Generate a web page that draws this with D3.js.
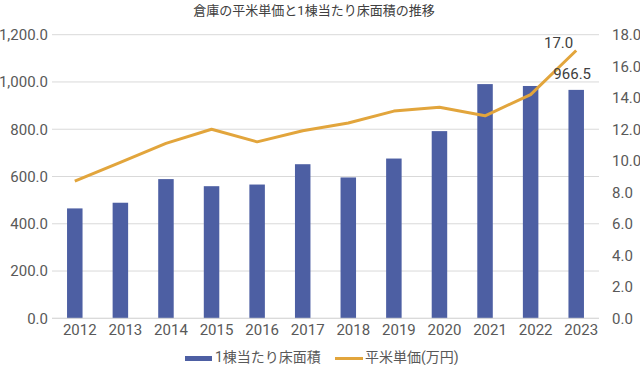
<!DOCTYPE html>
<html><head><meta charset="utf-8">
<script src="https://cdn.jsdelivr.net/npm/d3@7"></script>
<style>
html,body{margin:0;padding:0;background:#fff;}
svg text{font-family:Roboto,"Noto Sans CJK JP",sans-serif;}
</style></head>
<body><svg id="c" width="640" height="365"></svg>
<script>
const years = ["2012","2013","2014","2015","2016","2017","2018","2019","2020","2021","2022","2023"];
const floorArea = [465, 489, 589, 559, 566, 652, 596, 676, 792, 991, 983, 966.5];
const unitPrice = [8.7, 9.9, 11.1, 12.0, 11.2, 11.9, 12.4, 13.15, 13.4, 12.85, 14.2, 17.0];
const leftTicks = [0, 200, 400, 600, 800, 1000, 1200];
const rightTicks = [0, 2, 4, 6, 8, 10, 12, 14, 16, 18];
const title = "倉庫の平米単価と1棟当たり床面積の推移";
const seriesNames = ["1棟当たり床面積", "平米単価(万円)"];

(function(){
const svg = d3.select("#c");
const pL = 52, pR = 599, pT = 34.7, pB = 318.3;
const barColor = "#4d5fa3", lineColor = "#e2a53c", textColor = "#595959";

const x = d3.scaleBand().domain(years).range([pL, pR]).paddingInner(0.66).paddingOuter(0.33);
const yL = d3.scaleLinear().domain([0, 1200]).range([pB, pT]);
const yR = d3.scaleLinear().domain([0, 18]).range([pB, pT]);

// gridlines
svg.append("g").selectAll("line").data(leftTicks).join("line")
  .attr("x1", pL).attr("x2", pR)
  .attr("y1", d => yL(d)).attr("y2", d => yL(d))
  .attr("stroke", "#d9d9d9").attr("stroke-width", 1);

// left axis
const fmtL = d3.format(",.1f");
const gL = svg.append("g").attr("transform", `translate(${pL - 4},0)`)
  .call(d3.axisLeft(yL).tickValues(leftTicks).tickFormat(fmtL).tickSize(0).tickPadding(0));
gL.select(".domain").remove();
gL.selectAll("text").attr("font-size", 15).attr("fill", textColor).attr("font-family", "Roboto");

// right axis
const gR = svg.append("g").attr("transform", `translate(612,0)`)
  .call(d3.axisRight(yR).tickValues(rightTicks).tickFormat(d3.format(".1f")).tickSize(0).tickPadding(0));
gR.select(".domain").remove();
gR.selectAll("text").attr("font-size", 15).attr("fill", textColor).attr("font-family", "Roboto");

// bars
svg.append("g").selectAll("rect").data(years).join("rect")
  .attr("x", (d) => x(d)).attr("width", x.bandwidth())
  .attr("y", (d, i) => yL(floorArea[i]))
  .attr("height", (d, i) => pB - yL(floorArea[i]))
  .attr("fill", barColor);

// baseline
svg.append("line").attr("x1", pL).attr("x2", pR).attr("y1", pB).attr("y2", pB)
  .attr("stroke", "#d9d9d9").attr("stroke-width", 1);

// x axis
const gX = svg.append("g").attr("transform", `translate(5,${pB + 4})`)
  .call(d3.axisBottom(x).tickSize(0).tickPadding(0));
gX.select(".domain").remove();
gX.selectAll("text").attr("font-size", 15).attr("fill", textColor).attr("font-family", "Roboto").attr("dy", "0.85em");

// line
const line = d3.line().x((d, i) => x(years[i]) + x.bandwidth() / 2).y(d => yR(d));
svg.append("path").datum(unitPrice).attr("d", line)
  .attr("fill", "none").attr("stroke", lineColor).attr("stroke-width", 3).attr("stroke-linejoin", "round");

// data labels
const lastI = years.length - 1;
svg.append("text").attr("x", x(years[lastI]) + x.bandwidth() / 2 - 3).attr("y", yR(unitPrice[lastI]) - 2)
  .attr("text-anchor", "end").attr("font-size", 15).attr("fill", "#404040").text(d3.format(".1f")(unitPrice[lastI]));
svg.append("text").attr("x", x(years[lastI]) + x.bandwidth() / 2 - 4).attr("y", yL(floorArea[lastI]) - 11)
  .attr("text-anchor", "middle").attr("font-size", 15).attr("fill", "#404040").text(d3.format(".1f")(floorArea[lastI]));

// title
svg.append("text").attr("x", 314).attr("y", 15).attr("text-anchor", "middle")
  .attr("font-size", 13).attr("fill", "#404040").attr("font-family", "'Noto Sans CJK JP'").text(title);

// legend
svg.append("rect").attr("x", 185).attr("y", 356).attr("width", 27).attr("height", 5).attr("fill", barColor);
svg.append("text").attr("x", 215).attr("y", 362).attr("font-size", 14).attr("fill", textColor)
  .attr("font-family", "'Noto Sans CJK JP'").text(seriesNames[0]);
svg.append("line").attr("x1", 335).attr("x2", 363).attr("y1", 358.5).attr("y2", 358.5)
  .attr("stroke", lineColor).attr("stroke-width", 3);
svg.append("text").attr("x", 365).attr("y", 362).attr("font-size", 14).attr("fill", textColor)
  .attr("font-family", "'Noto Sans CJK JP'").text(seriesNames[1]);
})();
</script></body></html>
